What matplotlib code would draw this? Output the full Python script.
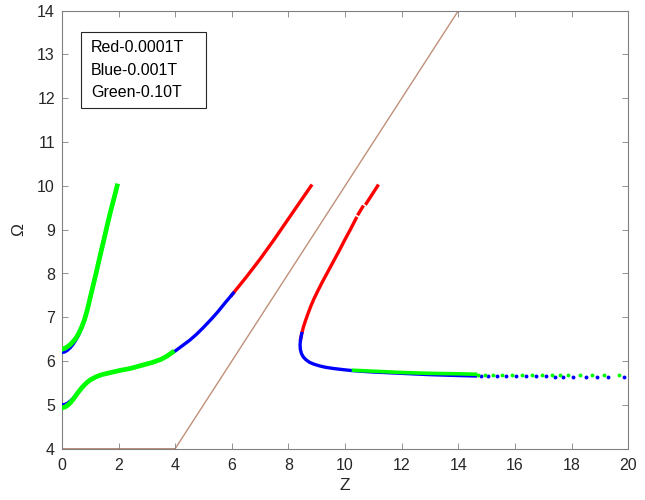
#!/usr/bin/env python
# dispersion branches Omega vs Z for three field values

import numpy as np
import matplotlib.pyplot as plt
from matplotlib.patches import Rectangle

plt.rcParams['font.family'] = ['Liberation Sans', 'DejaVu Sans']

# upper-left branch
gx1 = [0, 0.1, 0.2, 0.3, 0.4, 0.5, 0.6, 0.7, 0.8, 0.9, 1.0, 1.1, 1.2, 1.3, 1.4, 1.5, 1.6, 1.7, 1.8, 1.9, 1.95]
gy1 = [6.27, 6.29, 6.33, 6.38, 6.45, 6.53, 6.64, 6.78, 6.95, 7.18, 7.45, 7.72, 7.99, 8.27, 8.55, 8.82, 9.1, 9.37, 9.62, 9.87, 10.0]
bx1 = [0, 0.1, 0.2, 0.3, 0.4, 0.5, 0.6, 0.7, 0.8, 0.9, 1.0, 1.1, 1.2, 1.3, 1.4, 1.5, 1.6, 1.7, 1.8, 1.9, 1.95]
by1 = [6.2, 6.21, 6.25, 6.31, 6.39, 6.49, 6.61, 6.76, 6.94, 7.17, 7.45, 7.72, 7.99, 8.27, 8.55, 8.82, 9.1, 9.37, 9.62, 9.87, 10.0]

# lower branch
gx2 = [0, 0.1, 0.2, 0.3, 0.4, 0.5, 0.6, 0.7, 0.8, 0.9, 1.0, 1.2, 1.4, 1.6, 1.8, 2.0, 2.4, 2.8, 3.2, 3.5, 3.7, 3.9]
gy2 = [4.93, 4.95, 4.99, 5.05, 5.13, 5.22, 5.31, 5.39, 5.46, 5.52, 5.57, 5.64, 5.69, 5.72, 5.75, 5.78, 5.83, 5.9, 5.97, 6.04, 6.11, 6.2]
bx2 = [0, 0.1, 0.2, 0.3, 0.4, 0.5, 0.6, 0.7, 0.8, 0.9, 1.0, 1.2, 1.4, 1.6, 1.8, 2.0, 2.4, 2.8, 3.2, 3.5, 3.7, 4.0,
       4.25, 4.5, 4.75, 5.0, 5.25, 5.5, 5.75, 6.05]
by2 = [5.0, 5.01, 5.04, 5.09, 5.15, 5.23, 5.31, 5.39, 5.46, 5.52, 5.57, 5.64, 5.69, 5.72, 5.75, 5.78, 5.83, 5.9, 5.97, 6.04, 6.11, 6.23,
       6.35, 6.47, 6.61, 6.77, 6.94, 7.12, 7.32, 7.55]
rx2 = [6.0, 6.5, 7.0, 7.5, 8.0, 8.5, 8.8]
ry2 = [7.51, 7.91, 8.33, 8.78, 9.25, 9.72, 10.0]

# right branch
rx3 = [8.43, 8.47, 8.53, 8.6, 8.7, 8.8, 8.9, 9.05, 9.2, 9.4, 9.6, 9.8, 10.0, 10.2, 10.39]
ry3 = [6.5, 6.63, 6.78, 6.92, 7.1, 7.27, 7.42, 7.62, 7.81, 8.05, 8.29, 8.53, 8.78, 9.02, 9.26]
rx3b = [10.47, 10.62]
ry3b = [9.36, 9.52]
rx3c = [10.75, 11.15]
ry3c = [9.6, 10.0]
bx3 = [8.47, 8.43, 8.41, 8.42, 8.46, 8.53, 8.62, 8.75, 8.9, 9.1, 9.3, 9.6, 10.0, 10.3, 11, 12, 13, 14, 14.6]
by3 = [6.63, 6.5, 6.38, 6.27, 6.17, 6.09, 6.03, 5.97, 5.93, 5.89, 5.86, 5.83, 5.8, 5.78, 5.75, 5.72, 5.69, 5.67, 5.66]
gx3 = [10.3, 11, 12, 13, 14, 14.6]
gy3 = [5.79, 5.77, 5.74, 5.72, 5.71, 5.7]

# sparse tail points
bdx = [14.8, 15.05, 15.35, 15.7, 16.05, 16.4, 16.75, 17.1, 17.4, 17.7, 18.05, 18.5, 18.9, 19.3, 19.85]
bdy = [5.66, 5.66, 5.66, 5.65, 5.65, 5.65, 5.65, 5.65, 5.64, 5.64, 5.64, 5.64, 5.64, 5.64, 5.64]
gdx = [14.71, 14.95, 15.24, 15.54, 15.89, 16.25, 16.6, 16.95, 17.3, 17.6, 17.89, 18.3, 18.72, 19.13, 19.66]
gdy = [5.69, 5.69, 5.69, 5.69, 5.69, 5.69, 5.68, 5.68, 5.68, 5.68, 5.68, 5.68, 5.68, 5.68, 5.68]

# light line
lx = [0, 0, 4, 14]
ly = [5, 4, 4, 14]

legend_lines = ['Red-0.0001T', 'Blue-0.001T', 'Green-0.10T']

red = '#ff0000'
blue = '#0000ff'
green = '#00ff00'
brown = '#c0907a'

fig = plt.figure(figsize=(6.45, 5), dpi=100)
ax = fig.add_axes([0.096, 0.1026, 0.878, 0.876])

ax.plot(lx, ly, color=brown, lw=1.0, zorder=1)

ax.plot(rx2, ry2, color=red, lw=2.4, zorder=2)
ax.plot(rx3, ry3, color=red, lw=2.4, zorder=2)
ax.plot(rx3b, ry3b, color=red, lw=2.4, zorder=2)
ax.plot(rx3c, ry3c, color=red, lw=2.4, zorder=2)

ax.plot(bx1, by1, color=blue, lw=2.4, zorder=3)
ax.plot(bx2, by2, color=blue, lw=2.4, zorder=3)
ax.plot(bx3, by3, color=blue, lw=2.4, zorder=3)
ax.plot(bdx, bdy, 'o', color=blue, ms=2.8, mew=0, zorder=3)

ax.plot(gx1, gy1, color=green, lw=3.4, zorder=4)
ax.plot(gx2, gy2, color=green, lw=3.4, zorder=4)
ax.plot(gx3, gy3, color=green, lw=2.6, zorder=4)
ax.plot(gdx, gdy, 'o', color=green, ms=2.8, mew=0, zorder=4)

ax.set_xlim(0, 20)
ax.set_ylim(4, 14)
ax.set_xticks(np.arange(0, 21, 2))
ax.set_yticks(np.arange(4, 15, 1))
ax.tick_params(direction='in', length=4, width=0.6, colors='#808080',
               labelcolor='#262626', labelsize=11.5, top=True, right=True)
ax.tick_params(axis='x', pad=7)
ax.tick_params(axis='y', pad=5)
for s in ax.spines.values():
    s.set_color('#808080')
    s.set_linewidth(0.8)

ax.set_xlabel('Z', fontsize=12.5, color='#262626', labelpad=3)
ax.set_ylabel('Ω', fontsize=12.5, color='#262626', labelpad=8)

# text box in the corner
ax.add_patch(Rectangle((0.0336, 0.778), 0.2204, 0.173, transform=ax.transAxes,
                       facecolor='white', edgecolor='#262626', lw=0.8, zorder=5))
for t, yy in zip(legend_lines, [0.916, 0.863, 0.814]):
    ax.text(0.051, yy, t, transform=ax.transAxes, fontsize=11.5,
            color='#000000', va='center', ha='left', zorder=6)

plt.savefig('out.png', dpi=100)
